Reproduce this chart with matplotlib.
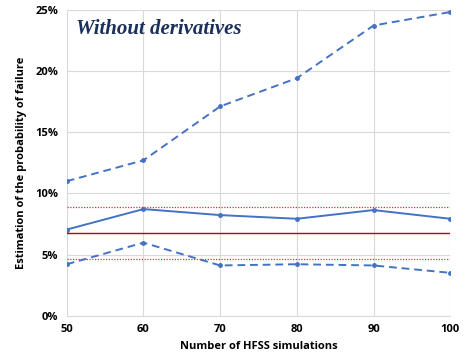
import matplotlib.pyplot as plt
from matplotlib.ticker import PercentFormatter

sims = [50, 60, 70, 80, 90, 100]
upper = [11.0, 12.7, 17.1, 19.4, 23.7, 24.8]
estimate = [7.05, 8.72, 8.23, 7.93, 8.64, 7.93]
lower = [4.22, 5.98, 4.12, 4.22, 4.12, 3.52]
ref_value = 6.76
ref_high = 8.86
ref_low = 4.62

BLUE = "#4472C4"
RED = "#C00000"

fig = plt.figure(figsize=(4.67, 3.55), dpi=100)
ax = fig.add_axes([0.143, 0.110, 0.821, 0.863])

ax.plot(sims, upper, color=BLUE, lw=1.4, ls=(0, (4, 2.5)), marker="o", ms=2.5)
ax.plot(sims, estimate, color=BLUE, lw=1.4, marker="o", ms=2.5)
ax.plot(sims, lower, color=BLUE, lw=1.4, ls=(0, (4, 2.5)), marker="o", ms=2.5)
ax.axhline(ref_value, color=RED, lw=1.0)
ax.axhline(ref_high, color="#E03030", lw=0.9, ls=(0, (1, 1.2)))
ax.axhline(ref_low, color="#E03030", lw=0.9, ls=(0, (1, 1.2)))

ax.set_xlim(50, 100)
ax.set_ylim(0, 25)
ax.set_xticks(sims)
ax.set_yticks([0, 5, 10, 15, 20, 25])
ax.yaxis.set_major_formatter(PercentFormatter(decimals=0))
ax.grid(True, color="#D9D9D9", lw=0.8)
ax.set_axisbelow(True)
for side in ("top", "right", "left"):
    ax.spines[side].set_visible(False)
ax.spines["bottom"].set_color("#D9D9D9")
ax.tick_params(length=0, labelsize=8, pad=6)
for lab in ax.get_xticklabels() + ax.get_yticklabels():
    lab.set_fontweight("bold")
    lab.set_fontfamily("Open Sans")

ax.set_xlabel("Number of HFSS simulations", fontsize=8, fontweight="bold", family="Open Sans", labelpad=4)
ax.set_ylabel("Estimation of the probability of failure", fontsize=8, fontweight="bold", family="Open Sans", labelpad=6)

ax.text(0.025, 0.935, "Without derivatives", transform=ax.transAxes, fontsize=15,
        fontweight="bold", fontstyle="italic", family="Liberation Serif", color="#1A2F5A",
        va="center", ha="left")

fig.savefig("out.png", dpi=100)
